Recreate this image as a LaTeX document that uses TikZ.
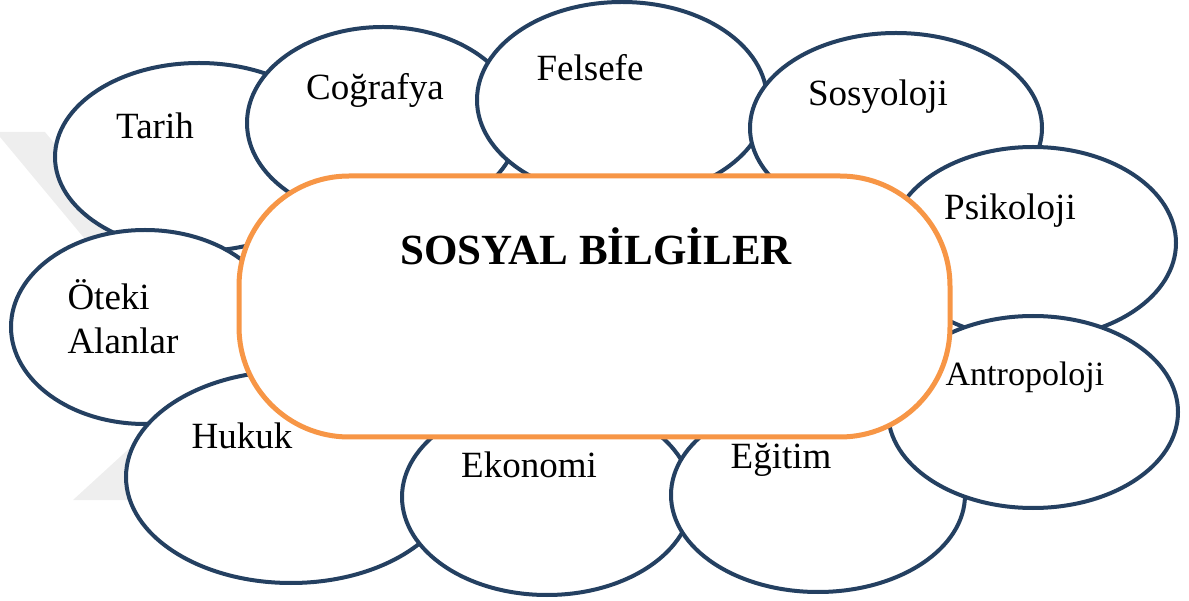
\documentclass[tikz,border=0pt]{standalone}
\usepackage{fontspec}
\setmainfont{Liberation Serif}
\usetikzlibrary{shapes.geometric}
\definecolor{ovalblue}{RGB}{36,64,97}
\definecolor{boxorange}{RGB}{247,150,70}
\definecolor{markgray}{RGB}{238,238,238}
\begin{document}
\begin{tikzpicture}[
    x=1pt, y=-1pt,
    oval/.style={ellipse, draw=ovalblue, fill=white, line width=4pt, inner sep=0pt},
    lbl/.style={font=\fontsize{37}{44}\selectfont, inner sep=0pt},
    core/.style={rectangle, draw=boxorange, fill=white, line width=5pt,
                 rounded corners=110pt, inner sep=0pt,
                 minimum width=711pt, minimum height=261pt},
  ]
    \useasboundingbox (0,0) rectangle (1189,601);

    % Faint background mark --------------------------------------------------
    \fill[markgray] (0,132) -- (45,132) -- (300,440) -- (240,500)
                    -- (73,500) -- (203,381) -- (0,137) -- cycle;

    % Left and lower ring ----------------------------------------------------
    \node[oval, minimum width=288pt, minimum height=188pt] (tarih) at (199,157) {};
    \node[lbl] (tarihlbl) at (155,126) {Tarih};
    \node[oval, minimum width=268pt, minimum height=194pt] (oteki) at (145,327) {};
    \node[lbl, align=left] (otekilbl) at (123,317) {Öteki\\Alanlar};
    \node[oval, minimum width=330pt, minimum height=212pt] (hukuk) at (291,477) {};
    \node[lbl] (hukuklbl) at (242,436) {Hukuk};
    \node[oval, minimum width=290pt, minimum height=196pt] (ekonomi) at (547,497) {};
    \node[lbl] (ekonomilbl) at (529,465) {Ekonomi};
    \node[oval, minimum width=294pt, minimum height=194pt] (egitim) at (818,495) {};
    \node[lbl] (egitimlbl) at (781,460) {Eğitim};

    % Upper and right ring ---------------------------------------------------
    \node[oval, minimum width=272pt, minimum height=192pt] (cografya) at (383,123) {};
    \node[lbl] (cografyalbl) at (375,90) {Coğrafya};
    \node[oval, minimum width=290pt, minimum height=196pt] (felsefe) at (622,100) {};
    \node[lbl] (felsefelbl) at (590,68) {Felsefe};
    \node[oval, minimum width=292pt, minimum height=190pt] (sosyoloji) at (896,128) {};
    \node[lbl] (sosyolojilbl) at (878,97) {Sosyoloji};
    \node[oval, minimum width=286pt, minimum height=192pt] (psikoloji) at (1033,243) {};
    \node[lbl] (psikolojilbl) at (1010,211) {Psikoloji};
    \node[oval, minimum width=290pt, minimum height=192pt] (antropoloji) at (1033,412) {};
    \node[lbl, font=\fontsize{34}{40}\selectfont] (antropolojilbl) at (1025,377) {Antropoloji};

    % Centre -----------------------------------------------------------------
    \node[core] (sosyal) at (594.5,306.5) {};
    \node[lbl, font=\fontsize{43}{50}\selectfont\bfseries] (sosyallbl) at (596,246) {SOSYAL BİLGİLER};
  \end{tikzpicture}
\end{document}
